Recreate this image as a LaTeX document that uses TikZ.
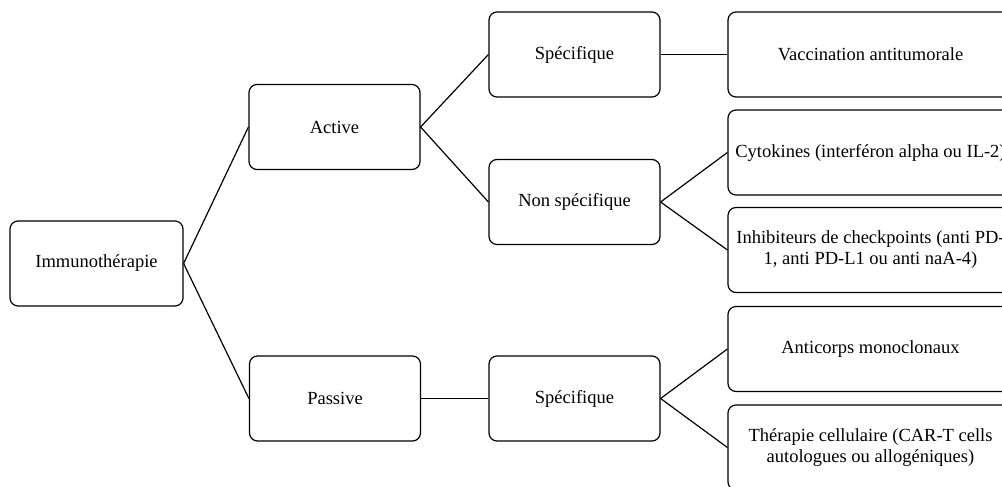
\documentclass[tikz,border=0pt]{standalone}
\usepackage{fontspec}
\setmainfont{LiberationSerif}[Extension=.ttf, UprightFont=*-Regular, BoldFont=*-Bold, ItalicFont=*-Italic, BoldItalicFont=*-BoldItalic]
\begin{document}
\begin{tikzpicture}[x=1pt,y=-1pt,
  box/.style={draw, line width=1.2pt, rounded corners=8pt, minimum height=85pt, inner sep=0pt, align=center, font=\fontsize{18.5}{21}\selectfont},
  mid/.style={box, minimum width=171pt},
  wide/.style={box, minimum width=285pt},
  link/.style={line width=1.2pt}]
\useasboundingbox (0,0) rectangle (1002,487);
\clip (0,0) rectangle (1002,487);
\node[box, minimum width=173pt] (imm) at (96.5,263.5) {Immunothérapie};
\node[mid] (act) at (334.5,127) {Active};
\node[mid] (pas) at (335,398.5) {Passive};
\node[mid] (spa) at (574.5,54.5) {Spécifique};
\node[mid] (nsp) at (574.5,202) {Non spécifique};
\node[mid] (spp) at (574.5,398.5) {Spécifique};
\node[wide] (vac) at (870.5,54.5) {Vaccination antitumorale};
\node[wide] (cyt) at (870.5,152.5) {Cytokines (interféron alpha ou IL-2)};
\node[wide] (inh) at (870.5,250) {Inhibiteurs de checkpoints (anti PD-\\1, anti PD-L1 ou anti naA-4)};
\node[wide] (anc) at (870.5,349) {Anticorps monoclonaux};
\node[wide] (the) at (870.5,447.5) {Thérapie cellulaire (CAR-T cells\\autologues ou allogéniques)};
\draw[link] (imm.east) -- (act.west);
\draw[link] (imm.east) -- (pas.west);
\draw[link] (act.east) -- (spa.west);
\draw[link] (act.east) -- (nsp.west);
\draw[link] (pas.east) -- (spp.west);
\draw[link] (spa.east) -- (vac.west);
\draw[link] (nsp.east) -- (cyt.west);
\draw[link] (nsp.east) -- (inh.west);
\draw[link] (spp.east) -- (anc.west);
\draw[link] (spp.east) -- (the.west);
\end{tikzpicture}
\end{document}
